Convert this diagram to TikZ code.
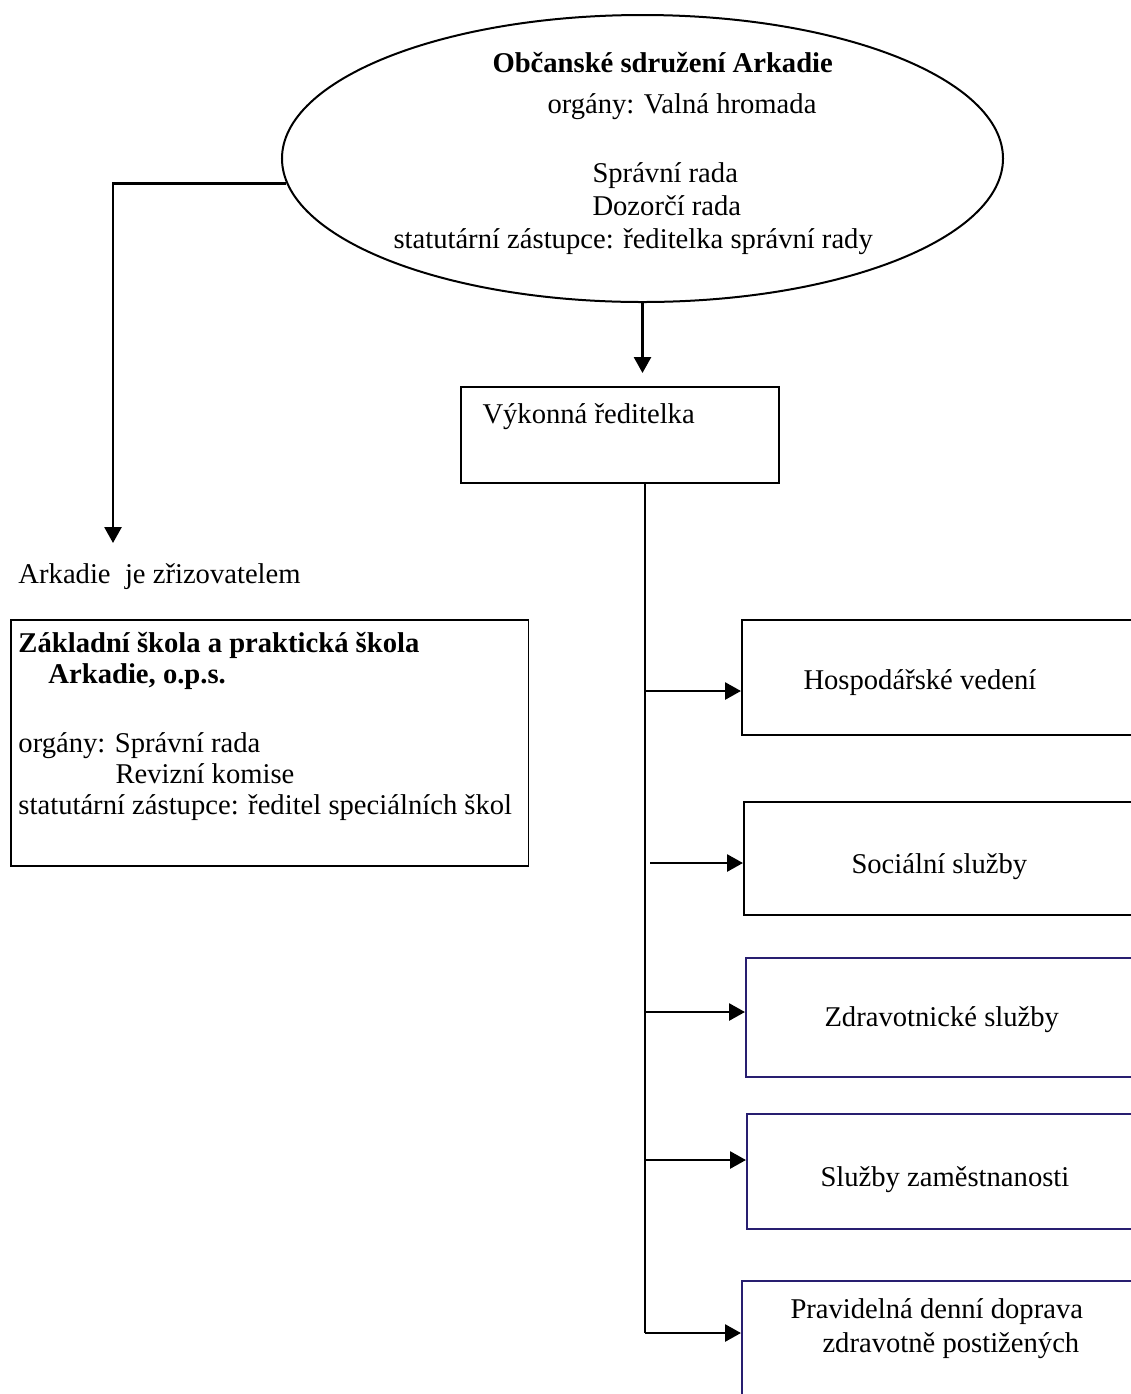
\documentclass[tikz,border=0pt]{standalone}
\usepackage{fontspec}
\setmainfont{Liberation Serif}
\usetikzlibrary{shapes.geometric,arrows.meta}
\definecolor{navy}{RGB}{40,30,112}
\newcommand\vel{\fontsize{11.45}{13.2}\selectfont}

\begin{document}
\begin{tikzpicture}[x=0.4pt, y=-0.4pt,
        txt/.style={anchor=base west, inner sep=0pt, font=\vel},
        tucne/.style={txt, font=\vel\bfseries},
        box/.style={draw, rectangle, line width=0.7pt, anchor=north west, inner sep=0pt},
        navybox/.style={box, draw=navy},
        arr/.style={-{Triangle[length=6.4pt,width=6.8pt]}, line width=1.1pt},
        spoj/.style={line width=0.7pt}]
        \useasboundingbox (0,0) rectangle (1131,1394);
        \fill[white] (0,0) rectangle (1131,1394);
        \clip (0,0) rectangle (1131,1394);

        % sdruzeni
        \node[draw, ellipse, line width=0.8pt, inner sep=0pt, minimum width=288.4pt, minimum height=114.8pt] (osa) at (642.5,158.5) {};
        \node[tucne] (osaNazev) at (492,72) {Občanské sdružení Arkadie};
        \node[txt] (osaOrgany) at (547,113) {orgány: Valná hromada};
        \node[txt] (osaSprav) at (592,182) {Správní rada};
        \node[txt] (osaDozor) at (592,215) {Dozorčí rada};
        \node[txt] (osaStat) at (393,248) {statutární zástupce: ředitelka správní rady};

        % skola
        \coordinate (zrizTip) at (113,543);
        \node[txt] (zrizText) at (18,583) {Arkadie\ \ je zřizovatelem};
        \node[box, minimum width=207pt, minimum height=98.4pt] (skola) at (10,619) {};
        \node[tucne] (skolaNazev1) at (18,652) {Základní škola a praktická škola};
        \node[tucne] (skolaNazev2) at (48,683) {Arkadie, o.p.s.};
        \node[txt] (skolaOrgany) at (18,752) {orgány: Správní rada};
        \node[txt] (skolaRevize) at (115,783) {Revizní komise};
        \node[txt] (skolaStat) at (18,814) {statutární zástupce: ředitel speciálních škol};

        % vedeni
        \node[box, minimum width=127.2pt, minimum height=38.4pt] (vykonna) at (460,386) {};
        \node[txt] (vykonnaText) at (482,423) {Výkonná ředitelka};

        \node[box, minimum width=167.6pt, minimum height=46pt] (hosp) at (741,619) {};
        \node[box, minimum width=166.8pt, minimum height=45.2pt] (soc) at (743,801) {};
        \node[navybox, minimum width=166pt, minimum height=47.6pt] (zdrav) at (745,957) {};
        \node[navybox, minimum width=165.6pt, minimum height=46pt] (sluzby) at (746,1113) {};
        \node[navybox, minimum width=167.6pt, minimum height=56pt] (prav) at (741,1280) {};

        \node[txt] (hospText) at (803,689) {Hospodářské vedení};
        \node[txt] (socText) at (851,873) {Sociální služby};
        \node[txt] (zdravText) at (824,1026) {Zdravotnické služby};
        \node[txt] (sluzbyText) at (820,1186) {Služby zaměstnanosti};
        \node[txt] (pravText1) at (790,1318) {Pravidelná denní doprava};
        \node[txt] (pravText2) at (822,1352) {zdravotně postižených};

        % spoje
        \draw[arr] (osa.184) -| (zrizTip);
        \draw[arr, shorten >=5.2pt] (osa.south) -- (osa.south |- vykonna.north);

        \coordinate (zhosp) at (645,691);
        \coordinate (zsoc) at (650,863);
        \coordinate (zzdrav) at (645,1012);
        \coordinate (zsluzby) at (645,1160);
        \coordinate (zprav) at (645,1333);

        \draw[spoj] (vykonna.south -| zprav) -- (zprav);
        \draw[arr] (zhosp) -- (hosp.west |- zhosp);
        \draw[arr] (zsoc) -- (soc.west |- zsoc);
        \draw[arr] (zzdrav) -- (zdrav.west |- zzdrav);
        \draw[arr] (zsluzby) -- (sluzby.west |- zsluzby);
        \draw[arr] (zprav) -- (prav.west |- zprav);
    \end{tikzpicture}
\end{document}
